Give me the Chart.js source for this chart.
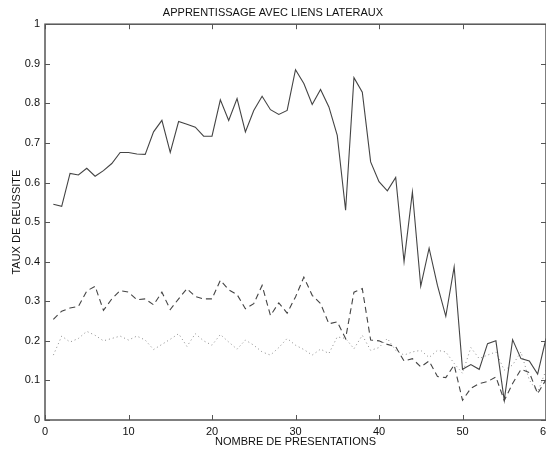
<!DOCTYPE html>
<html>
<head>
<meta charset="utf-8">
<script src="https://cdn.jsdelivr.net/npm/chart.js@4.4.0/dist/chart.umd.min.js"></script>
<style>
  html, body { margin: 0; padding: 0; background: #fff; overflow: hidden; }
  #wrap { width: 546px; height: 450px; overflow: hidden; }
</style>
</head>
<body>
<div id="wrap"><canvas id="chart" width="560" height="450"></canvas></div>
<script>
const presentations = [1, 2, 3, 4, 5, 6, 7, 8, 9, 10, 11, 12, 13, 14, 15, 16, 17, 18, 19, 20,
  21, 22, 23, 24, 25, 26, 27, 28, 29, 30, 31, 32, 33, 34, 35, 36, 37, 38, 39, 40,
  41, 42, 43, 44, 45, 46, 47, 48, 49, 50, 51, 52, 53, 54, 55, 56, 57, 58, 59, 60];

const solidRates = [0.545, 0.540, 0.623, 0.619, 0.636, 0.616, 0.630, 0.648, 0.676, 0.676,
  0.672, 0.671, 0.728, 0.757, 0.676, 0.754, 0.747, 0.740, 0.717, 0.717,
  0.809, 0.757, 0.812, 0.728, 0.782, 0.818, 0.784, 0.772, 0.782, 0.885,
  0.850, 0.797, 0.835, 0.791, 0.719, 0.530, 0.865, 0.828, 0.652, 0.602,
  0.579, 0.613, 0.400, 0.576, 0.338, 0.434, 0.340, 0.262, 0.387, 0.128,
  0.140, 0.128, 0.193, 0.200, 0.050, 0.203, 0.155, 0.149, 0.116, 0.206];

const dashedRates = [0.254, 0.275, 0.283, 0.287, 0.326, 0.338, 0.277, 0.306, 0.327, 0.323,
  0.304, 0.306, 0.291, 0.323, 0.279, 0.306, 0.332, 0.312, 0.306, 0.306,
  0.353, 0.329, 0.317, 0.281, 0.294, 0.340, 0.264, 0.296, 0.270, 0.311,
  0.361, 0.315, 0.294, 0.243, 0.248, 0.206, 0.323, 0.332, 0.202, 0.200,
  0.191, 0.185, 0.149, 0.155, 0.134, 0.149, 0.110, 0.107, 0.139, 0.050,
  0.080, 0.092, 0.097, 0.109, 0.049, 0.092, 0.128, 0.120, 0.067, 0.102];

const dottedRates = [0.164, 0.212, 0.197, 0.206, 0.224, 0.214, 0.200, 0.206, 0.212, 0.202,
  0.212, 0.202, 0.178, 0.191, 0.204, 0.218, 0.186, 0.218, 0.200, 0.189,
  0.216, 0.197, 0.179, 0.202, 0.189, 0.172, 0.164, 0.183, 0.206, 0.189,
  0.178, 0.164, 0.179, 0.168, 0.210, 0.206, 0.180, 0.214, 0.176, 0.183,
  0.206, 0.176, 0.164, 0.172, 0.176, 0.158, 0.176, 0.172, 0.143, 0.118,
  0.183, 0.155, 0.164, 0.172, 0.126, 0.139, 0.172, 0.101, 0.070, 0.126];

const xTicks = [0, 10, 20, 30, 40, 50, 60];
const yTicks = [0, 0.1, 0.2, 0.3, 0.4, 0.5, 0.6, 0.7, 0.8, 0.9, 1];

const FONT = 'Liberation Sans, Arial, Helvetica, sans-serif';
const TEXT_COLOR = '#111';
const AXIS_COLOR = '#555';

function toPoints(values) {
  return presentations.map((p, i) => ({x: p, y: values[i]}));
}

// matlab style box with ticks pointing inwards on all four sides
const frameBox = {
  id: 'frameBox',
  afterDatasetsDraw(chart) {
    const {ctx, chartArea: a, scales: {x, y}} = chart;
    const len = 5;
    ctx.save();
    ctx.strokeStyle = AXIS_COLOR;
    ctx.lineWidth = 1;
    ctx.beginPath();
    xTicks.forEach(v => {
      const px = Math.round(x.getPixelForValue(v)) + 0.5;
      ctx.moveTo(px, a.bottom);
      ctx.lineTo(px, a.bottom - len);
      ctx.moveTo(px, a.top);
      ctx.lineTo(px, a.top + len);
    });
    yTicks.forEach(v => {
      const py = Math.round(y.getPixelForValue(v)) + 0.5;
      ctx.moveTo(a.left, py);
      ctx.lineTo(a.left + len, py);
      ctx.moveTo(a.right, py);
      ctx.lineTo(a.right - len, py);
    });
    ctx.stroke();
    ctx.lineWidth = 1.5;
    ctx.strokeRect(a.left, a.top, a.right - a.left, a.bottom - a.top);
    ctx.restore();
  }
};

const lineStyle = {
  fill: false,
  tension: 0,
  pointRadius: 0,
  pointHoverRadius: 0
};

new Chart(document.getElementById('chart').getContext('2d'), {
  type: 'line',
  data: {
    datasets: [
      {...lineStyle, data: toPoints(solidRates), borderColor: '#444', borderWidth: 1.1},
      {...lineStyle, data: toPoints(dashedRates), borderColor: '#444', borderWidth: 1.1, borderDash: [6, 4]},
      {...lineStyle, data: toPoints(dottedRates), borderColor: '#8a8a8a', borderWidth: 1, borderDash: [1, 3]}
    ]
  },
  options: {
    responsive: false,
    animation: false,
    layout: {
      padding: {left: 0, top: 0, right: 14, bottom: 0}
    },
    scales: {
      x: {
        type: 'linear',
        min: 0,
        max: 60,
        afterBuildTicks: (scale) => { scale.ticks = xTicks.map(v => ({value: v})); },
        afterFit: (scale) => { scale.height = 30; },
        border: {display: false},
        grid: {display: false, drawTicks: false},
        ticks: {
          padding: 5,
          maxRotation: 0,
          color: TEXT_COLOR,
          font: {family: FONT, size: 11}
        },
        title: {
          display: true,
          text: 'NOMBRE DE PRESENTATIONS',
          color: TEXT_COLOR,
          padding: {top: 0, bottom: 1},
          font: {family: FONT, size: 11}
        }
      },
      y: {
        type: 'linear',
        min: 0,
        max: 1,
        afterBuildTicks: (scale) => { scale.ticks = yTicks.map(v => ({value: v})); },
        afterFit: (scale) => { scale.width = 45; },
        border: {display: false},
        grid: {display: false, drawTicks: false},
        ticks: {
          padding: 5,
          color: TEXT_COLOR,
          font: {family: FONT, size: 11},
          callback: (v) => String(+v.toFixed(1))
        },
        title: {
          display: true,
          text: 'TAUX DE REUSSITE',
          color: TEXT_COLOR,
          padding: {top: 10, bottom: 0},
          font: {family: FONT, size: 11}
        }
      }
    },
    plugins: {
      legend: {display: false},
      tooltip: {enabled: false},
      title: {
        display: true,
        text: 'APPRENTISSAGE AVEC LIENS LATERAUX',
        color: TEXT_COLOR,
        padding: {top: 6, bottom: 5},
        font: {family: FONT, size: 11, weight: 'normal'}
      }
    }
  },
  plugins: [frameBox]
});
</script>
</body>
</html>
